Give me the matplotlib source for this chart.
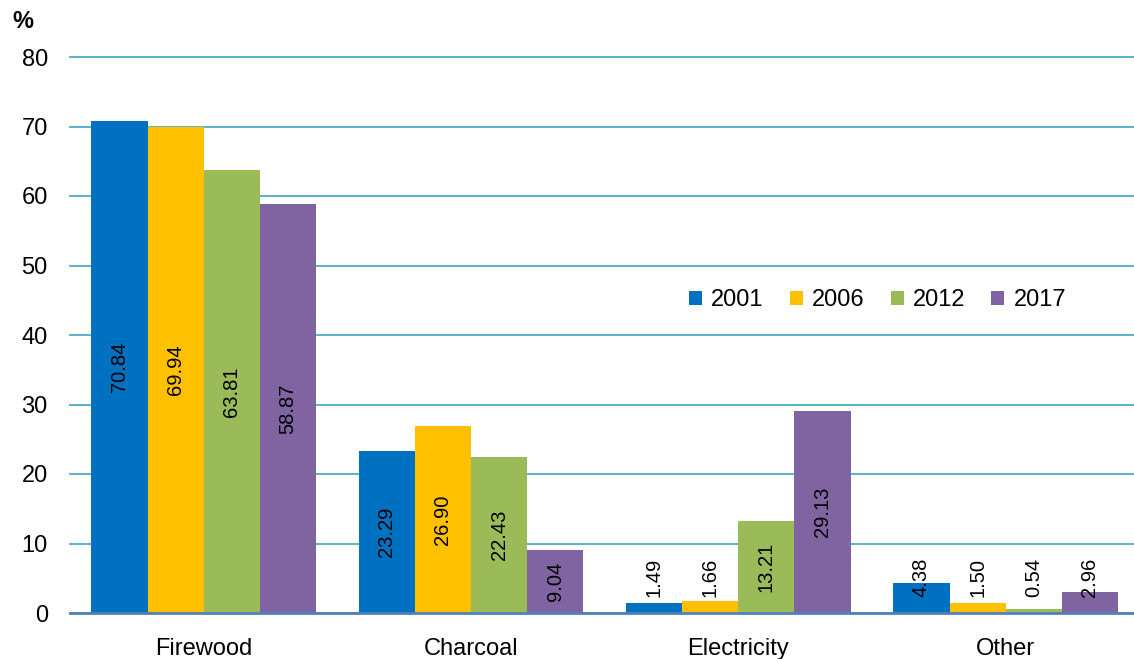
import numpy as np
import matplotlib
matplotlib.use("Agg")
import matplotlib.pyplot as plt

plt.rcParams['font.family'] = ['Liberation Sans Narrow', 'Liberation Sans', 'DejaVu Sans']

categories = ['Firewood', 'Charcoal', 'Electricity', 'Other']
years = ['2001', '2006', '2012', '2017']
v2001 = [70.84, 23.29, 1.49, 4.38]
v2006 = [69.94, 26.90, 1.66, 1.50]
v2012 = [63.81, 22.43, 13.21, 0.54]
v2017 = [58.87, 9.04, 29.13, 2.96]
series = [v2001, v2006, v2012, v2017]
colors = ['#0070C0', '#FFC000', '#9BBB59', '#8064A2']

fig = plt.figure(figsize=(11.34, 6.59), dpi=100)
ax = fig.add_axes([70 / 1134, 46 / 659, 1 - 70 / 1134, 556 / 659])

x = np.arange(len(categories))
w = 0.21
for i, (vals, c, yr) in enumerate(zip(series, colors, years)):
    pos = x + (i - 1.5) * w
    ax.bar(pos, vals, w, color=c, label=yr, zorder=3)
    for px, v in zip(pos, vals):
        if v > 8:
            ax.text(px, v / 2, f'{v:.2f}', rotation=90, ha='center', va='center',
                    fontsize=14.5, zorder=4)
        else:
            # small bars: label sits near the base
            ax.text(px, 2.3, f'{v:.2f}', rotation=90, ha='center', va='bottom',
                    fontsize=14.5, zorder=4)

ax.set_xlim(-0.5, 3.48)
ax.set_ylim(0, 80)
ax.set_yticks(range(0, 81, 10))
ax.set_xticks(x)
ax.set_xticklabels(categories, fontsize=17)
ax.tick_params(axis='y', labelsize=17, length=0, pad=16)
ax.tick_params(axis='x', length=0, pad=18)
ax.grid(axis='y', color='#4BACC6', linewidth=1.3, zorder=0)
for gl in ax.yaxis.get_gridlines():
    gl.set_clip_on(False)
for s in ['left', 'right', 'top']:
    ax.spines[s].set_visible(False)
ax.spines['bottom'].set_color('#4F81BD')
ax.spines['bottom'].set_linewidth(2)
ax.spines['bottom'].set_zorder(5)

fig.text(12 / 1134, 1 - 22 / 659, '%', fontsize=17, fontweight='bold', va='center')

ax.legend(ncol=4, frameon=False, fontsize=17, loc='center', bbox_to_anchor=(0.759, 0.563),
          handlelength=0.55, handleheight=0.55, handletextpad=0.4, columnspacing=1.1)

fig.savefig('out.png', dpi=100)
